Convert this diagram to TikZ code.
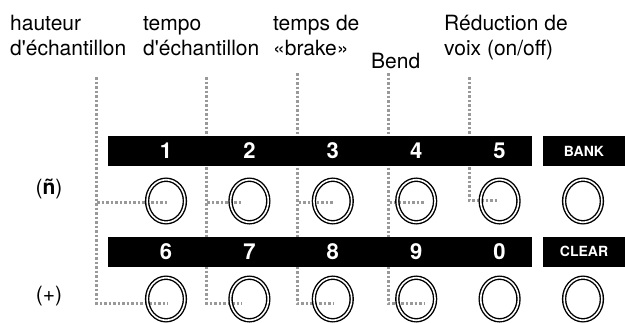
\documentclass[tikz,border=0pt]{standalone}
\usepackage{fontspec}
\setmainfont{TeX Gyre Heros}
\usetikzlibrary{shapes.geometric}
\begin{document}
\begin{tikzpicture}[x=1pt,y=-1pt,
  lbl/.style={anchor=base west,inner sep=0pt,align=left,font=\fontsize{21}{25}\selectfont},
  bar/.style={fill=black,inner sep=0pt,minimum height=30pt},
  num/.style={text=white,inner sep=0pt,font=\bfseries\fontsize{22}{22}\selectfont},
  key/.style={text=white,inner sep=0pt,font=\bfseries\fontsize{14}{14}\selectfont},
  btn/.style={ellipse,draw=black,line width=1.4pt,double=white,double distance=1.6pt,minimum width=37.8pt,minimum height=42.6pt,inner sep=0pt},
  dotline/.style={draw=black!40,line width=3pt,line cap=butt,dash pattern=on 2.5pt off 2pt},
  side/.style={inner sep=0pt,font=\fontsize{21}{21}\selectfont}]
\useasboundingbox (0,0) rectangle (625,322);
% labels
\node[lbl] (L1) at (10,55) {hauteur\\d\textquotesingle échantillon};
\node[lbl] (L2) at (143,55) {tempo\\d\textquotesingle échantillon};
\node[lbl] (L3) at (273,55) {temps de\\«brake»};
\node[lbl] (L4) at (371,68) {Bend};
\node[lbl] (L5) at (444,55) {Réduction de\\voix (on/off)};
% start coordinates of leader lines
\coordinate (s1) at (96,77);
\coordinate (s2) at (206,77);
\coordinate (s3) at (297,73);
\coordinate (s4) at (388,73);
\coordinate (s5) at (469,77);
% button centres
\foreach \i/\x in {1/166,2/249.4,3/332.8,4/416.2,5/499.6,bank/583}{
  \coordinate (c\i) at (\x,201);
}
\foreach \i/\x in {6/166,7/249.4,8/332.8,9/416.2,0/499.6,clear/583}{
  \coordinate (c\i) at (\x,299);
}
% leader lines (behind)
\draw[dotline] (s1) |- ([xshift=2pt,yshift=-1pt]c1);
\draw[dotline] (s1) |- ([xshift=2pt,yshift=-4pt]c6);
\draw[dotline] (s2) |- ([xshift=-7pt,yshift=-1pt]c2);
\draw[dotline] (s2) |- ([xshift=-7pt,yshift=-4pt]c7);
\draw[dotline] (s3) |- ([xshift=1pt,yshift=-1pt]c3);
\draw[dotline] (s3) |- ([xshift=1pt,yshift=-4pt]c8);
\draw[dotline] (s4) |- ([xshift=9pt,yshift=-1pt]c4);
\draw[dotline] (s4) |- ([xshift=9pt,yshift=-4pt]c9);
\draw[dotline] (s5) |- ([xshift=-1pt,yshift=1pt]c5);
% bars
\node[bar,minimum width=424pt] (bar1) at (320,151) {};
\node[bar,minimum width=82pt] (bar2) at (584,151) {};
\node[bar,minimum width=424pt] (bar3) at (320,251.5) {};
\node[bar,minimum width=82pt] (bar4) at (584,251.5) {};
\foreach \i/\x in {1/166,2/249.4,3/332.8,4/416.2,5/499.6}{
  \node[num] (n\i) at (\x,151) {\i};
}
\foreach \i/\x in {6/166,7/249.4,8/332.8,9/416.2,0/499.6}{
  \node[num] (n\i) at (\x,251.5) {\i};
}
\node[key] (nbank) at (584,151) {BANK};
\node[key] (nclear) at (584,251.5) {CLEAR};
% buttons
\foreach \i in {1,2,3,4,5,bank,6,7,8,9,0,clear}{
  \node[btn] (b\i) at (c\i) {};
}
% side labels
\node[side] (sn) at (49,189) {(\textbf{ñ})};
\node[side] (sp) at (49,296) {(+)};
\end{tikzpicture}
\end{document}
